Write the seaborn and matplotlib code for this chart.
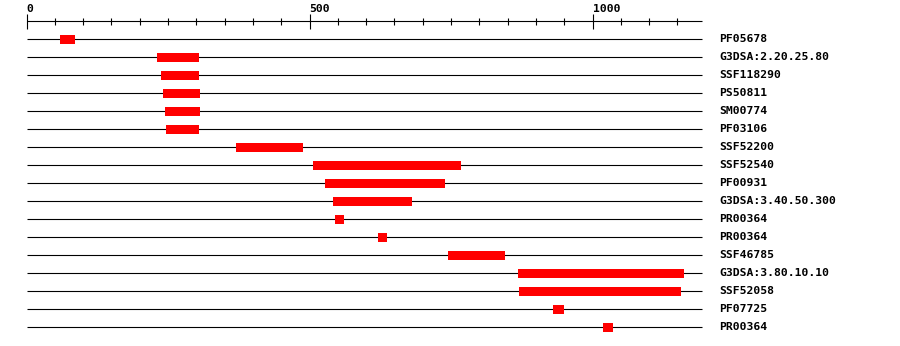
import matplotlib
matplotlib.use("Agg")
import matplotlib.pyplot as plt
import seaborn as sns
import pandas as pd

# ---- data ----
seq_length = 1193
features = ["PF05678", "G3DSA:2.20.25.80", "SSF118290", "PS50811", "SM00774",
            "PF03106", "SSF52200", "SSF52540", "PF00931", "G3DSA:3.40.50.300",
            "PR00364", "PR00364", "SSF46785", "G3DSA:3.80.10.10", "SSF52058",
            "PF07725", "PR00364"]
starts = [59, 231, 238, 241, 245, 247, 370, 506, 527, 542, 545, 621, 745, 868, 870, 930, 1018]
ends = [86, 305, 305, 307, 307, 305, 489, 768, 739, 681, 561, 637, 845, 1162, 1156, 950, 1036]
major_ticks = [0, 500, 1000]
minor_ticks = list(range(50, 1200, 50))

df = pd.DataFrame({"feature": features, "start": starts, "end": ends})
df["row"] = range(len(df))
df["length"] = df["end"] - df["start"]

sns.set_theme(style="white")
plt.rcParams["font.family"] = ["DejaVu Sans Mono"]

fig = plt.figure(figsize=(9, 3.46), dpi=100)
ax = fig.add_axes([0, 0, 1, 1])
px = 0.566  # pixels per residue
ax.set_xlim(-26.5 / px, (900 - 26.5) / px)
ax.set_ylim((346 - 39.3) / 18, -39.3 / 18)
ax.set_axis_off()

# row baselines
ax.hlines(df["row"], 0, seq_length, color="black", linewidth=0.8, zorder=1)

# feature bars
ax.barh(df["row"], df["length"], left=df["start"], height=0.5,
        color="#ff0000", edgecolor="none", zorder=2)

# feature labels
for r, name in zip(df["row"], df["feature"]):
    ax.text(seq_length + 30.5, r, name, ha="left", va="center",
            fontsize=8.2, fontweight="bold", color="black")

# scale axis at top
ax.hlines(-1, 0, seq_length, color="black", linewidth=0.8)
for t in major_ticks:
    ax.vlines(t, -1.4, -0.6, color="black", linewidth=0.8)
    ax.text(t, -1.5, str(t), ha="left", va="baseline",
            fontsize=8.2, fontweight="bold", color="black")
for t in minor_ticks:
    if t not in major_ticks:
        ax.vlines(t, -1.2, -0.82, color="black", linewidth=0.8)

sns.despine(ax=ax, left=True, bottom=True)
fig.savefig("out.png", dpi=100, facecolor="white")
